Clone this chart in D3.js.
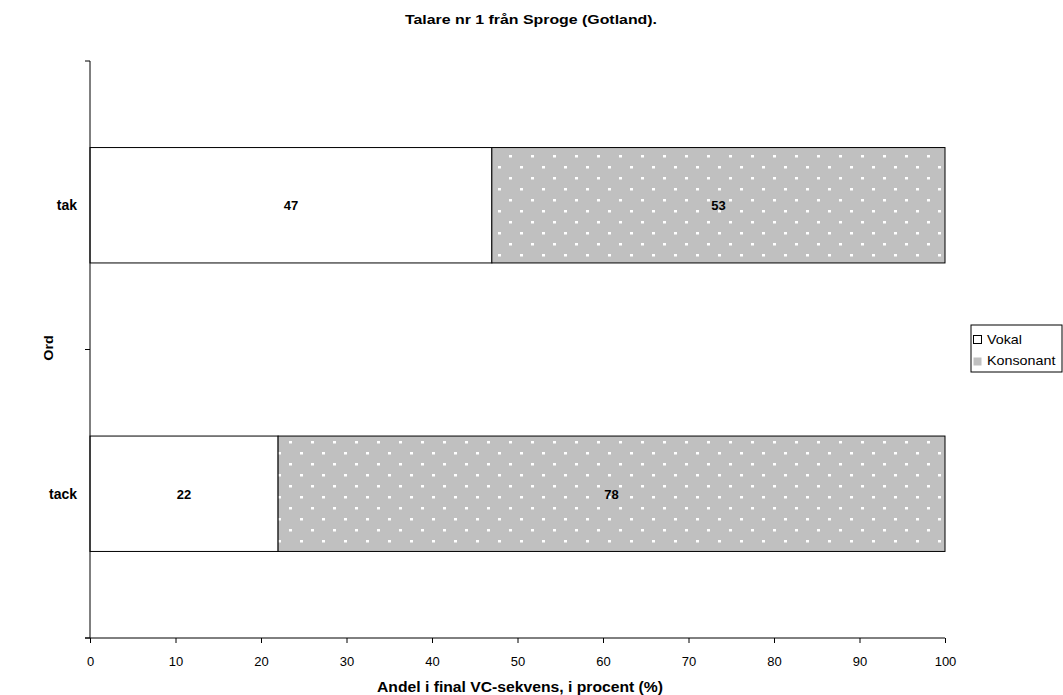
<!DOCTYPE html>
<html>
<head>
<meta charset="utf-8">
<script src="https://cdn.jsdelivr.net/npm/d3@7"></script>
<style>
body { margin: 0; background: #fff; }
text { font-family: "Liberation Sans", Arial, sans-serif; }
</style>
</head>
<body>
<script>
var categories = ["tak", "tack"];
var vokal = [47, 22];
var konsonant = [53, 78];
var seriesNames = ["Vokal", "Konsonant"];
var xTicks = [0, 10, 20, 30, 40, 50, 60, 70, 80, 90, 100];

const width = 1063, height = 695;
const plotLeft = 90, plotRight = 945, plotTop = 61, plotBottom = 638;

var svg = d3.select("body").append("svg")
    .attr("width", width)
    .attr("height", height);

// text in the original is drawn a bit wider than the font, stretch it
function stretch(sel, k) {
    sel.each(function() {
        var w = this.getComputedTextLength();
        d3.select(this).attr("textLength", w * k).attr("lengthAdjust", "spacingAndGlyphs");
    });
}

var defs = svg.append("defs");
var pat = defs.append("pattern")
    .attr("id", "dots")
    .attr("patternUnits", "userSpaceOnUse")
    .attr("width", 22).attr("height", 22);
pat.append("rect").attr("width", 22).attr("height", 22).attr("fill", "#c0c0c0");
pat.append("rect").attr("x", 3).attr("y", 1).attr("width", 3).attr("height", 2.5).attr("fill", "#fff");
pat.append("rect").attr("x", 14).attr("y", 12).attr("width", 3).attr("height", 2.5).attr("fill", "#fff");

var x = d3.scaleLinear().domain([0, 100]).range([plotLeft, plotRight]);
var y = d3.scaleBand().domain(categories).range([plotTop, plotBottom]).paddingInner(0.6).paddingOuter(0.3);

// stacked data
var rows = categories.map(function(c, i) {
    return {cat: c, segs: [
        {s: 0, x0: 0, x1: vokal[i], v: vokal[i], cat: c},
        {s: 1, x0: vokal[i], x1: vokal[i] + konsonant[i], v: konsonant[i], cat: c}
    ]};
});

var g = svg.selectAll("g.row").data(rows).enter().append("g").attr("class", "row");
g.selectAll("rect").data(function(d) { return d.segs; })
    .enter().append("rect")
    .attr("x", function(d) { return x(d.x0); })
    .attr("y", function(d) { return y(d.cat); })
    .attr("width", function(d) { return x(d.x1) - x(d.x0); })
    .attr("height", y.bandwidth())
    .attr("fill", function(d) { return d.s == 0 ? "#fff" : "url(#dots)"; })
    .attr("stroke", "#000")
    .attr("stroke-width", 1);

g.selectAll("text").data(function(d) { return d.segs; })
    .enter().append("text")
    .attr("x", function(d) { return (x(d.x0) + x(d.x1)) / 2; })
    .attr("y", function(d) { return y(d.cat) + y.bandwidth() / 2 + 5; })
    .attr("text-anchor", "middle")
    .style("font-size", "13px").style("font-weight", "bold")
    .text(function(d) { return d.v; });

// x axis
var xAxis = svg.append("g").attr("transform", "translate(0," + plotBottom + ")")
    .call(d3.axisBottom(x).tickValues(xTicks).tickSize(5).tickPadding(14));
xAxis.select(".domain").attr("stroke", "#000").attr("d", "M" + (plotLeft - 5) + ",0H" + plotRight);
xAxis.selectAll("text").style("font-size", "13px").style("font-family", "Liberation Sans, Arial, sans-serif");

// y axis, ticks between categories
var yEdges = [plotTop, (plotTop + plotBottom) / 2, plotBottom];
svg.append("line").attr("x1", plotLeft).attr("x2", plotLeft).attr("y1", plotTop).attr("y2", plotBottom).attr("stroke", "#000");
svg.selectAll("line.ytick").data(yEdges).enter().append("line")
    .attr("x1", plotLeft - 5).attr("x2", plotLeft)
    .attr("y1", function(d) { return d; }).attr("y2", function(d) { return d; })
    .attr("stroke", "#000");
svg.selectAll("text.ylab").data(categories).enter().append("text")
    .attr("x", plotLeft - 13)
    .attr("y", function(d) { return y(d) + y.bandwidth() / 2 + 5; })
    .attr("text-anchor", "end")
    .style("font-size", "14px").style("font-weight", "bold")
    .text(function(d) { return d; });

// titles
svg.append("text").attr("x", 531).attr("y", 24).attr("text-anchor", "middle")
    .style("font-size", "12px").style("font-weight", "bold")
    .text("Talare nr 1 från Sproge (Gotland).")
    .attr("textLength", 252).attr("lengthAdjust", "spacingAndGlyphs");
svg.append("text").attr("x", 520).attr("y", 692).attr("text-anchor", "middle")
    .style("font-size", "14px").style("font-weight", "bold")
    .text("Andel i final VC-sekvens, i procent (%)")
    .attr("textLength", 286).attr("lengthAdjust", "spacingAndGlyphs");
svg.append("text").attr("transform", "translate(53,348) rotate(-90)").attr("text-anchor", "middle")
    .style("font-size", "13px").style("font-weight", "bold")
    .text("Ord")
    .call(stretch, 1.1);

// legend
var lg = svg.append("g").attr("transform", "translate(971,325)");
lg.append("rect").attr("width", 91).attr("height", 47).attr("fill", "#fff").attr("stroke", "#000");
lg.selectAll("rect.sw").data(seriesNames).enter().append("rect")
    .attr("class", "sw")
    .attr("x", 2.5).attr("y", function(d, i) { return 10.5 + i * 22; })
    .attr("width", 8).attr("height", 8)
    .attr("fill", function(d, i) { return i == 0 ? "#fff" : "#c0c0c0"; })
    .attr("stroke", function(d, i) { return i == 0 ? "#000" : "none"; });
lg.selectAll("text").data(seriesNames).enter().append("text")
    .attr("x", 16).attr("y", function(d, i) { return 19 + i * 21; })
    .style("font-size", "13px")
    .text(function(d) { return d; })
    .call(stretch, 1.1);
</script>
</body>
</html>
